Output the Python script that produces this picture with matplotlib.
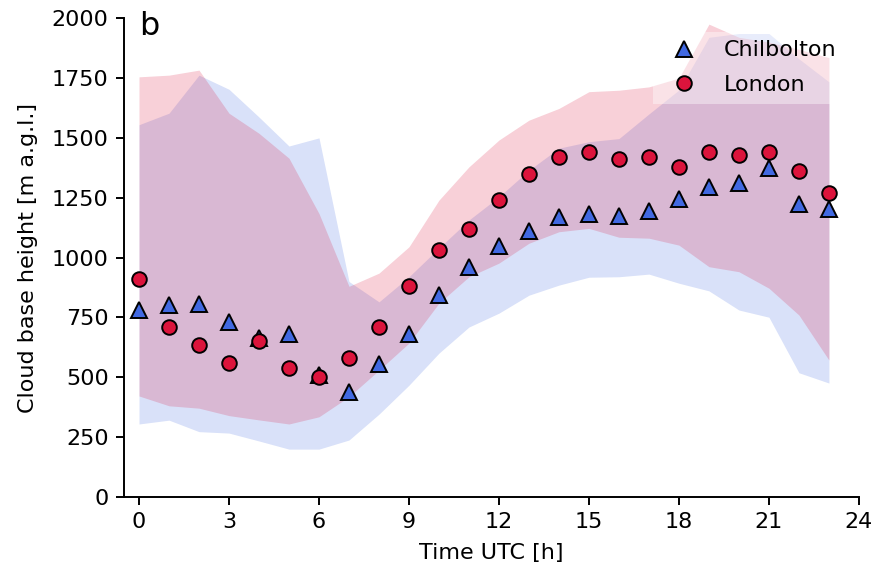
import matplotlib
matplotlib.use("Agg")
import matplotlib.pyplot as plt
import numpy as np

hours = list(range(24))

chil_mean = [780, 800, 805, 730, 665, 680, 510, 440, 555, 680, 845, 960, 1050, 1110,
             1170, 1180, 1175, 1195, 1245, 1295, 1310, 1375, 1225, 1205]
lon_mean = [910, 710, 635, 560, 650, 540, 500, 580, 710, 880, 1030, 1120, 1240, 1350,
            1420, 1440, 1410, 1420, 1380, 1440, 1430, 1440, 1360, 1270]

chil_low = [305, 321, 273, 267, 234, 200, 200, 238, 346, 467, 601, 710, 768, 843,
            885, 918, 920, 931, 893, 861, 781, 751, 519, 476]
chil_high = [1555, 1603, 1762, 1703, 1587, 1466, 1500, 900, 815, 920, 1040, 1157, 1254, 1365,
             1457, 1484, 1497, 1600, 1700, 1920, 1936, 1936, 1830, 1734]
lon_low = [422, 381, 371, 340, 322, 305, 335, 419, 530, 643, 810, 920, 977, 1060,
           1108, 1122, 1085, 1081, 1052, 962, 941, 872, 760, 572]
lon_high = [1755, 1762, 1783, 1603, 1519, 1415, 1184, 880, 935, 1045, 1240, 1379, 1491, 1574,
            1623, 1693, 1699, 1713, 1750, 1975, 1920, 1900, 1870, 1835]

xticks = [0, 3, 6, 9, 12, 15, 18, 21, 24]
yticks = [0, 250, 500, 750, 1000, 1250, 1500, 1750, 2000]

fig = plt.figure(figsize=(8.77, 5.68), dpi=100)
ax = fig.add_axes([0.1414, 0.125, 0.838, 0.843])

ax.fill_between(hours, chil_low, chil_high, color='royalblue', alpha=0.2, lw=0)
ax.fill_between(hours, lon_low, lon_high, color='crimson', alpha=0.2, lw=0)

ax.plot(hours, chil_mean, ls='none', marker='^', ms=11, mfc='royalblue', mec='black',
        mew=1.4, label='Chilbolton', zorder=3)
ax.plot(hours, lon_mean, ls='none', marker='o', ms=10.5, mfc='crimson', mec='black',
        mew=1.4, label='London', zorder=3)

ax.set_xlim(-0.5, 24)
ax.set_ylim(0, 2000)
ax.set_xticks(xticks)
ax.set_yticks(yticks)
ax.tick_params(labelsize=16, width=1.4, length=6, pad=5)
for s in ['top', 'right']:
    ax.spines[s].set_visible(False)
for s in ['left', 'bottom']:
    ax.spines[s].set_linewidth(1.4)

ax.set_xlabel('Time UTC [h]', fontsize=16, labelpad=8)
ax.set_ylabel('Cloud base height [m a.g.l.]', fontsize=16, labelpad=10)
ax.text(0.02, 1.015, 'b', transform=ax.transAxes, fontsize=23, va='top', ha='left')

leg = ax.legend(loc='upper right', fontsize=16, frameon=True, framealpha=0.4,
                edgecolor='none', fancybox=False, labelspacing=0.65,
                borderaxespad=0.6)
leg.get_frame().set_linewidth(0)

fig.savefig('out.png', dpi=100)
